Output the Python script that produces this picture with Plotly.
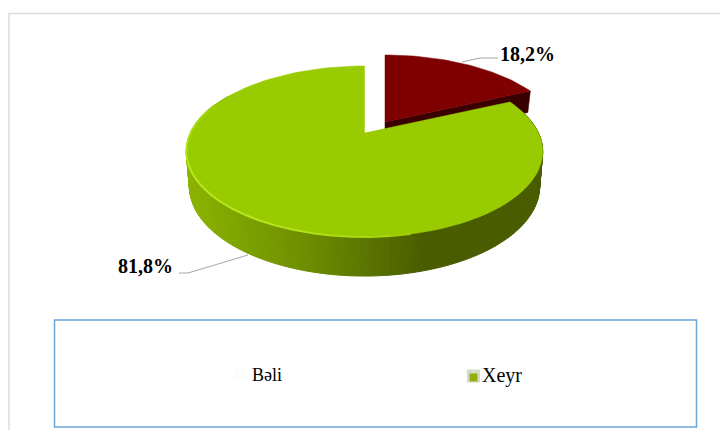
import math
import plotly.graph_objects as go

categories = ["Bəli", "Xeyr"]
values = [18.2, 81.8]
slice_colors = ["#7f0000", "#99cc00"]
side_stops = [(0.0, (0x4a, 0x5c, 0x00)), (0.33, (0x4a, 0x5c, 0x00)), (0.68, (0x70, 0x90, 0x00)), (1.0, (0x8c, 0xb4, 0x00))]

FONT = "Liberation Serif"
fig = go.Figure()


def lerp_side(u):
    u = max(0.0, min(1.0, u))
    for (a, ca), (b, cb) in zip(side_stops, side_stops[1:]):
        if u <= b:
            f = (u - a) / (b - a)
            return "rgb(%d,%d,%d)" % tuple(ca[i] + (cb[i] - ca[i]) * f for i in range(3))
    return "rgb(%d,%d,%d)" % side_stops[-1][1]


def proj(theta_deg, cx, cy, rx=174.0, ay=81.5, k=0.216):
    t = math.radians(theta_deg)
    d = 1 + k * math.cos(t)
    return cx + rx * math.sin(t) / d, cy - ay * math.cos(t) / d


def poly(pts, color, lw=0.0):
    fig.add_trace(go.Scatter(
        x=[p[0] for p in pts] + [pts[0][0]], y=[p[1] for p in pts] + [pts[0][1]],
        mode="lines", fill="toself", fillcolor=color,
        line=dict(color=color, width=lw), hoverinfo="skip", showlegend=False))


def arc(a, b, n, **kw):
    return [proj(a + (b - a) * i / n, **kw) for i in range(n + 1)]


split = values[0] / sum(values) * 360.0
GREEN = dict(cx=364.5, cy=133.0)
GREEN_LOW = dict(cx=364.5, cy=167.0, rx=171.0, ay=85.5)
RED = dict(cx=385.0, cy=122.0)
RED_LOW = dict(cx=385.0, cy=145.0, rx=171.0, ay=85.5)

# exploded slice: side wall and top
poly([(RED["cx"], RED["cy"]), proj(split, **RED), proj(split, **RED_LOW), (RED_LOW["cx"], RED_LOW["cy"])], "#3a0000", 0.5)
poly([(RED["cx"], RED["cy"])] + arc(0, split, 40, **RED), slice_colors[0], 0.5)

# main slice: side wall strips
step = 1.5
th = split
while th < 300:
    nxt = min(th + step, 300)
    xm = proj((th + nxt) / 2, **GREEN)[0]
    u = (364.5 + 178 - xm) / 356.0
    pts = arc(th, nxt, 1, **GREEN) + arc(nxt, th, 1, **GREEN_LOW)
    poly(pts, lerp_side(u), 1.0)
    th = nxt

# main slice: top
poly([(GREEN["cx"], GREEN["cy"])] + arc(split, 360, 120, **GREEN), slice_colors[1], 0.5)

# bright rim along the near-left edge
rim_a, rim_b = 168.0, 292.0
n = 24
for i in range(n):
    a = rim_a + (rim_b - rim_a) * i / n
    b = rim_a + (rim_b - rim_a) * (i + 1) / n
    f = math.sin(math.pi * (i + 0.5) / n) ** 0.7
    col = "rgb(%d,%d,%d)" % (0x99 + (0xb8 - 0x99) * f, 0xcc + (0xea - 0xcc) * f, 0 + 0x20 * f)
    pts = arc(a, b, 1, **GREEN)
    fig.add_trace(go.Scatter(x=[p[0] for p in pts], y=[p[1] for p in pts], mode="lines",
                             line=dict(color=col, width=2), hoverinfo="skip", showlegend=False))

# legend keys
fig.add_trace(go.Scatter(x=[240], y=[375], mode="markers",
                         marker=dict(symbol="square", size=12, color="#fcfcfc"),
                         hoverinfo="skip", showlegend=False))
fig.add_trace(go.Scatter(x=[473.5], y=[376], mode="markers",
                         marker=dict(symbol="square", size=13, color="#d5dcc5"),
                         hoverinfo="skip", showlegend=False))
fig.add_trace(go.Scatter(x=[473.5], y=[377.5], mode="markers",
                         marker=dict(symbol="square", size=8, color="#93ae10"),
                         hoverinfo="skip", showlegend=False))

fmt = lambda v: ("%.1f%%" % v).replace(".", ",")
ann = [
    dict(x=527.5, y=54, text="<b>%s</b>" % fmt(values[0]), size=20),
    dict(x=145.5, y=266, text="<b>%s</b>" % fmt(values[1]), size=20),
    dict(x=267, y=375, text=categories[0], size=18),
    dict(x=501.5, y=375, text=categories[1], size=20),
]
annotations = [dict(x=a["x"], y=a["y"], text=a["text"], xref="x", yref="y", showarrow=False,
                    xanchor="center", yanchor="middle",
                    font=dict(family=FONT, size=a["size"], color="#000000")) for a in ann]

shapes = [
    dict(type="path", path="M 9 430 L 9 13.5 L 720 13.5", line=dict(color="#dcdcdc", width=1.5)),
    dict(type="rect", x0=54.5, x1=696.5, y0=320, y1=427, line=dict(color="#6aa5dc", width=1.5)),
    dict(type="path", path="M 462 62 L 480 58 L 498 58", line=dict(color="#a6a6a6", width=1)),
    dict(type="path", path="M 248 255 L 188 273 L 179 273", line=dict(color="#a6a6a6", width=1)),
]

fig.update_layout(
    width=720, height=430, margin=dict(l=0, r=0, t=0, b=0),
    paper_bgcolor="white", plot_bgcolor="white", showlegend=False,
    xaxis=dict(range=[0, 720], visible=False, fixedrange=True),
    yaxis=dict(range=[430, 0], visible=False, fixedrange=True),
    annotations=annotations, shapes=shapes,
)
fig.write_html("out.html", config={"displayModeBar": False},
               post_script="document.body.style.margin='0';document.documentElement.style.overflow='hidden';")
